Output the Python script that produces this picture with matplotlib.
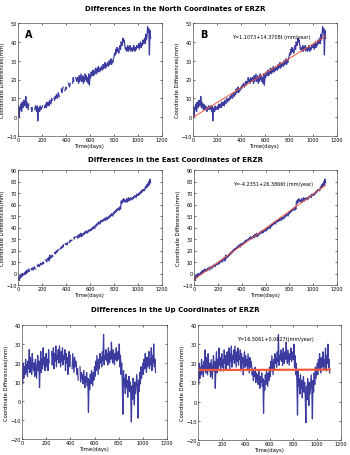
import numpy as np
import matplotlib
matplotlib.use("Agg")
import matplotlib.pyplot as plt

days = np.arange(0, 1110, 5)

north = [2, 6, 0, 5, 4, 7, 3, 8, 5, 6,
         9, 6, 7, 11, 5, 8, 6, 4, 7, 5,
         4, 6, 5, 3, 5, 4, 6, 5, 4, 6,
         5, 3, 6, -2, 4, 5, 3, 6, 4, 5,
         5, 6, 4, 7, 5, 6, 7, 5, 8, 6,
         7, 8, 6, 9, 8, 7, 10, 9, 8, 10,
         10, 9, 11, 10, 12, 11, 10, 13, 12, 11,
         13, 12, 15, 13, 14, 16, 13, 15, 14, 15,
         16, 15, 17, 16, 18, 17, 16, 18, 19, 17,
         19, 18, 21, 19, 20, 18, 21, 20, 19, 21,
         20, 18, 22, 19, 21, 23, 19, 20, 22, 18,
         21, 19, 23, 20, 22, 19, 21, 18, 23, 17,
         22, 21, 24, 22, 23, 25, 22, 24, 23, 26,
         24, 23, 26, 24, 27, 25, 24, 26, 25, 27,
         26, 25, 28, 26, 27, 29, 26, 28, 27, 29,
         28, 27, 30, 28, 29, 31, 28, 30, 29, 31,
         32, 34, 33, 36, 34, 37, 35, 36, 34, 37,
         38, 36, 40, 38, 39, 42, 40, 41, 38, 36,
         37, 35, 36, 38, 35, 37, 36, 38, 35, 36,
         37, 35, 36, 38, 36, 35, 37, 36, 38, 37,
         37, 39, 36, 38, 40, 37, 39, 38, 41, 39,
         40, 42, 39, 44, 41, 43, 48, 45, 47, 33,
         46, 42]

east = [-5, -3, -6, -2, -4, -1, -3, 0, -2, -1,
        0, 1, -1, 2, 0, 3, 1, 2, 4, 2,
        3, 2, 4, 3, 5, 4, 3, 6, 5, 4,
        6, 5, 7, 6, 8, 7, 6, 8, 9, 8,
        9, 8, 10, 9, 11, 10, 12, 11, 10, 13,
        12, 14, 11, 16, 13, 15, 14, 16, 15, 17,
        16, 18, 17, 19, 18, 20, 19, 21, 20, 22,
        21, 22, 23, 22, 24, 23, 25, 24, 23, 26,
        25, 26, 25, 27, 26, 28, 27, 29, 28, 29,
        29, 30, 29, 31, 30, 32, 31, 30, 32, 31,
        33, 31, 34, 32, 33, 35, 32, 34, 33, 35,
        34, 36, 35, 37, 36, 35, 37, 36, 38, 37,
        38, 37, 39, 38, 40, 39, 41, 40, 39, 42,
        41, 43, 42, 44, 43, 45, 44, 43, 46, 45,
        46, 45, 47, 46, 48, 47, 46, 49, 48, 47,
        49, 48, 50, 49, 51, 50, 52, 51, 50, 53,
        52, 54, 53, 55, 54, 56, 55, 57, 56, 55,
        58, 56, 63, 61, 64, 62, 65, 63, 64, 62,
        63, 65, 62, 64, 66, 63, 65, 64, 66, 65,
        64, 66, 65, 67, 66, 68, 67, 66, 69, 68,
        69, 68, 70, 69, 71, 70, 72, 71, 73, 72,
        73, 72, 75, 74, 77, 75, 78, 76, 80, 77,
        82, 79]

up = [16, 9, 20, 12, 18, 14, 22, 15, 19, 13,
      21, 17, 27, 15, 23, 18, 14, 25, 19, 16,
      20, 13, 22, 17, 12, 19, 24, 16, 21, 7,
      18, 26, 15, 22, 17, 28, 19, 23, 16, 21,
      25, 18, 22, 16, 27, 20, 24, 17, 21, 26,
      19, 23, 28, 17, 25, 21, 29, 18, 24, 22,
      27, 20, 29, 23, 18, 26, 21, 28, 19, 24,
      22, 27, 16, 25, 20, 23, 14, 21, 26, 18,
      24, 19, 22, 17, 25, 20, 15, 23, 18, 21,
      19, 14, 17, 11, 16, 13, 18, 10, 15, 12,
      14, 9, 16, 11, 7, 13, 10, 15, 8, 12,
      -6, 11, 6, 14, 9, 16, 12, 8, 15, 11,
      18, 13, 21, 16, 24, 19, 14, 22, 17, 25,
      20, 23, 18, 26, 21, 35, 19, 24, 22, 27,
      21, 25, 19, 28, 23, 20, 26, 22, 31, 24,
      20, 27, 23, 19, 25, 22, 28, 21, 24, 26,
      22, 30, 18, 24, 14, 20, 10, -7, 16, 8,
      12, 4, 14, 7, 11, 2, 9, 13, 5, 10,
      3, -11, 8, 1, 12, 6, -2, 10, 4, 9,
      14, 7, -9, 11, 5, 15, 9, 18, 12, 16,
      20, 14, 22, 17, 25, 19, 15, 23, 18, 21,
      26, 17, 22, 19, 28, 16, 24, 20, 30, 18,
      22, 15]

# data gaps seen in the raw series (left column)
north_gaps = [(92, 108), (122, 138), (207, 218), (287, 298), (347, 358), (377, 388), (407, 418), (437, 453), (468, 478)]
east_gaps = [(97, 108), (147, 158), (217, 228), (292, 303), (337, 348), (382, 393), (417, 428), (452, 463), (477, 488)]
up_gaps = [(227, 243), (402, 413), (467, 478)]

# printed trend of the Up component (intercept mm, slope mm/year)
up_fit = (16.5061, 0.0627)

titles = ["Differences in the North Coordinates of ERZR",
          "Differences in the East Coordinates of ERZR",
          "Differences in the Up Coordinates of ERZR"]
fit_texts = ["Y=1.1073+14.3708t (mm/year)",
             "Y=-4.2351+26.3866t (mm/year)",
             "Y=16.5061+0.0627t(mm/year)"]
ylims = [(-10, 50), (-10, 90), (-20, 40)]

blue = "#3c3ca0"
W, H = 350, 456

fig = plt.figure(figsize=(3.5, 4.56), dpi=100)


def ax_at(x0, y0, x1, y1):
    return fig.add_axes([x0 / W, 1 - y1 / H, (x1 - x0) / W, (y1 - y0) / H])


def masked(vals, gaps):
    v = np.array(vals, dtype=float)
    for a, b in gaps:
        v[(days >= a) & (days <= b)] = np.nan
    return v


def style(ax, ylim):
    ax.set_xlim(0, 1200)
    ax.set_ylim(*ylim)
    ax.set_xticks(range(0, 1201, 200))
    ax.set_yticks(range(ylim[0], ylim[1] + 1, 10))
    ax.tick_params(labelsize=3.5, length=1.5, width=0.4, pad=1, direction="in",
                   top=True, right=True)
    for s in ax.spines.values():
        s.set_linewidth(0.5)
        s.set_color("#555555")
    ax.set_xlabel("Time(days)", fontsize=3.8, labelpad=0.5)
    ax.set_ylabel("Coordinate Differences(mm)", fontsize=3.8, labelpad=1)


series = [north, east, up]
gaps = [north_gaps, east_gaps, up_gaps]
boxes = [[(18, 24, 162, 137), (193, 24, 337, 137)],
         [(18, 171, 162, 286), (194, 171, 337, 286)],
         [(22, 326, 167, 440), (198, 326, 341, 441)]]
title_y = [9, 160, 310]

for i in range(3):
    fig.text(0.5, 1 - title_y[i] / H, titles[i], ha="center", va="center",
             fontsize=5.0, fontweight="heavy")
    left = ax_at(*boxes[i][0])
    left.plot(days, masked(series[i], gaps[i]), color=blue, lw=0.9)
    style(left, ylims[i])

    right = ax_at(*boxes[i][1])
    right.plot(days, series[i], color=blue, lw=0.9)
    t = np.array([0, 1105])
    if i < 2:
        # least squares trend through the series
        k, c = np.polyfit(days, series[i], 1)
        right.plot(t, c + k * t, color="#f05a3c", lw=0.7)
    else:
        right.plot(t, up_fit[0] + up_fit[1] * t / 365.25, color="#f05a3c", lw=1.6)
    right.text(0.27, 0.88, fit_texts[i], transform=right.transAxes,
               fontsize=3.5, va="center")
    style(right, ylims[i])

    if i == 0:
        left.text(0.05, 0.9, "A", transform=left.transAxes, fontsize=7,
                  fontweight="bold", va="center")
        right.text(0.05, 0.9, "B", transform=right.transAxes, fontsize=7,
                   fontweight="bold", va="center")

fig.savefig("out.png", dpi=100)
